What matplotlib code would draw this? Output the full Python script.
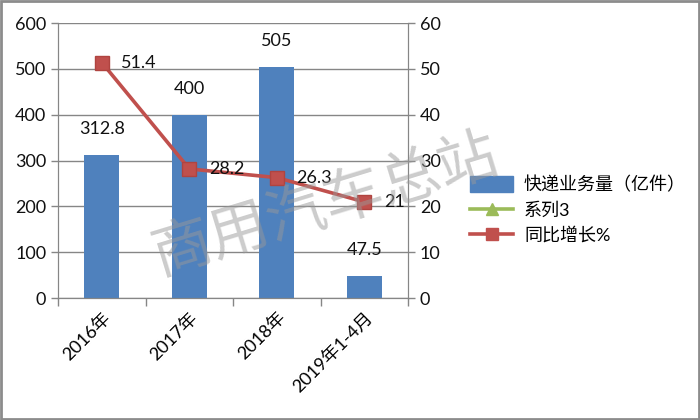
import matplotlib
matplotlib.use("Agg")
import matplotlib.pyplot as plt
from matplotlib.lines import Line2D
from matplotlib.patches import Patch, Rectangle

# ---------------------
# DATA
# ---------------------
categories = ['2016年', '2017年', '2018年', '2019年1-4月']
volume = [312.8, 400, 505, 47.5]        # 快递业务量（亿件）
growth = [51.4, 28.2, 26.3, 21]          # 同比增长%
volume_labels = ['312.8', '400', '505', '47.5']
growth_labels = ['51.4', '28.2', '26.3', '21']

BLUE = '#4F81BD'
RED = '#C0504D'
GREEN = '#9BBB59'
GRID = '#868686'

plt.rcParams['font.family'] = ['Lato', 'Noto Sans CJK SC', 'DejaVu Sans']

fig = plt.figure(figsize=(7, 4.2), dpi=100)
ax = fig.add_axes([0.083, 0.29, 0.5, 0.655])
ax2 = ax.twinx()

x = list(range(len(categories)))

# bars
ax.bar(x, volume, width=0.4, color=BLUE, zorder=2)
for xi, v, lab in zip(x, volume, volume_labels):
    ax.annotate(lab, (xi, v), xytext=(0, 13), textcoords='offset points',
                ha='center', va='bottom', fontsize=13, color='#111111')

# line
ax2.plot(x, growth, color=RED, lw=2.6, marker='s', markersize=10,
         markerfacecolor=RED, markeredgecolor='#B04440', zorder=3)
for xi, g, lab in zip(x, growth, growth_labels):
    ax2.annotate(lab, (xi, g), xytext=(14, 0), textcoords='offset points',
                 ha='left', va='center', fontsize=13, color='#111111')

ax.set_xlim(-0.5, 3.5)
ax.set_ylim(0, 600)
ax2.set_ylim(0, 60)
ax.set_yticks(range(0, 601, 100))
ax2.set_yticks(range(0, 61, 10))

ax.yaxis.grid(True, color=GRID, lw=1)
ax.set_axisbelow(True)

for a in (ax, ax2):
    a.spines['top'].set_visible(False)
    a.spines['left'].set_color(GRID)
    a.spines['right'].set_color(GRID)
    a.spines['bottom'].set_color(GRID)
    a.tick_params(colors=GRID, labelcolor='#111111', labelsize=13, length=5, width=1)

# x ticks at category boundaries, labels at centers
ax.set_xticks([-0.5, 0.5, 1.5, 2.5, 3.5])
ax.set_xticklabels([])
ax.set_xticks(x, minor=True)
ax.set_xticklabels(categories, minor=True, rotation=45, ha='right',
                   rotation_mode='anchor', fontsize=13)
ax.tick_params(axis='x', which='minor', length=0, pad=8)
ax.tick_params(axis='x', which='major', length=6, direction='out')

# legend
handles = [
    Patch(color=BLUE, label='快递业务量（亿件）'),
    Line2D([], [], color=GREEN, lw=2.6, marker='^', markersize=9, label='系列3'),
    Line2D([], [], color=RED, lw=2.6, marker='s', markersize=9, label='同比增长%'),
]
fig.legend(handles=handles, loc='center left', bbox_to_anchor=(0.648, 0.5),
           frameon=False, fontsize=13, handlelength=2.4, labelspacing=0.45,
           handleheight=1.0, handletextpad=0.6)

# watermark
fig.text(0.465, 0.51, '商用汽车总站', fontsize=43, color='#999999', alpha=0.5,
         rotation=17, ha='center', va='center', family=['Noto Sans CJK SC'],
         fontweight='light', zorder=10)

# figure border
fig.patches.append(Rectangle((0.002, 0.003), 0.996, 0.994, transform=fig.transFigure,
                             fill=False, edgecolor='#8C8C8C', lw=2))

fig.savefig('out.png', dpi=100)
